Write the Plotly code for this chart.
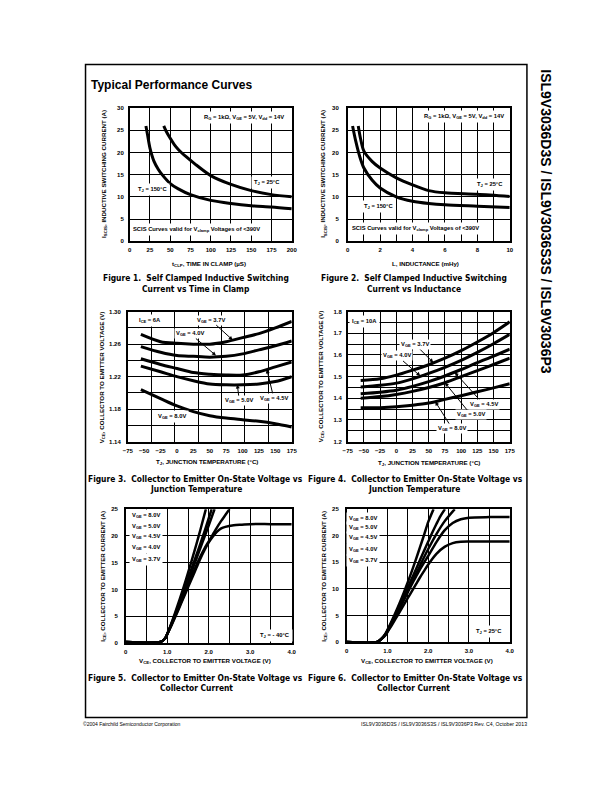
import plotly.graph_objects as go

# ---------------- data ----------------
# Figure 1: ISCIS vs time in clamp
f1_t150_x = [20, 22, 25, 30, 35, 40, 50, 60, 75, 100, 125, 150, 175, 200]
f1_t150_y = [26, 24, 21, 18, 16.3, 15, 13, 11.8, 10.5, 9.2, 8.5, 8.0, 7.7, 7.3]
f1_t25_x = [42, 45, 50, 55, 60, 70, 80, 100, 125, 150, 175, 200]
f1_t25_y = [26, 24.8, 23.2, 21.8, 20.7, 19.0, 17.5, 14.8, 12.8, 11.4, 10.5, 10.0]

# Figure 2: ISCIS vs inductance
f2_t150_x = [0.3, 0.5, 0.75, 1, 1.5, 2, 3, 4, 5, 6, 8, 10]
f2_t150_y = [26, 22.5, 19, 16.5, 13.8, 12, 10, 9, 8.5, 8.2, 7.9, 7.6]
f2_t25_x = [0.65, 0.8, 1, 1.5, 2, 3, 4, 5, 6, 8, 10]
f2_t25_y = [26, 23, 20.3, 18, 16.5, 14.3, 12.7, 11.4, 10.9, 10.6, 10.1]

# Figure 3: VCE vs TJ, ICE = 6A
f3_temp = [-55, -25, 0, 25, 50, 75, 100, 125, 150, 175]
f3_v37 = [1.272, 1.263, 1.261, 1.260, 1.260, 1.263, 1.268, 1.273, 1.280, 1.288]
f3_v40 = [1.257, 1.250, 1.246, 1.245, 1.244, 1.245, 1.248, 1.253, 1.258, 1.264]
f3_v45 = [1.242, 1.235, 1.230, 1.225, 1.223, 1.222, 1.222, 1.226, 1.232, 1.238]
f3_v50 = [1.233, 1.226, 1.220, 1.215, 1.211, 1.210, 1.210, 1.211, 1.214, 1.220]
f3_v80 = [1.204, 1.193, 1.184, 1.177, 1.172, 1.169, 1.167, 1.165, 1.162, 1.158]

# Figure 4: VCE vs TJ, ICE = 10A
f4_temp = [-55, -25, 0, 25, 50, 75, 100, 125, 150, 175]
f4_v37 = [1.482, 1.490, 1.507, 1.530, 1.555, 1.585, 1.620, 1.660, 1.703, 1.753]
f4_v40 = [1.452, 1.460, 1.470, 1.490, 1.515, 1.543, 1.575, 1.612, 1.652, 1.695]
f4_v45 = [1.421, 1.428, 1.437, 1.455, 1.477, 1.503, 1.533, 1.565, 1.595, 1.627]
f4_v50 = [1.400, 1.408, 1.418, 1.432, 1.450, 1.472, 1.500, 1.528, 1.556, 1.585]
f4_v80 = [1.356, 1.357, 1.361, 1.368, 1.378, 1.395, 1.412, 1.430, 1.448, 1.467]

# Figure 5: ICE vs VCE, TJ = -40C
f5_v80 = [0, 0.85, 0.95, 1.0, 1.1, 1.2, 1.3, 1.4, 1.5, 1.6, 1.7, 1.8, 1.93]
f5_i80 = [0.2, 0.25, 0.9, 1.7, 3.7, 5.9, 8.2, 10.6, 13.1, 15.7, 18.4, 21.2, 25]
f5_v50 = [0, 0.85, 0.95, 1.0, 1.1, 1.2, 1.3, 1.4, 1.5, 1.6, 1.7, 1.8, 1.9, 2.0, 2.07]
f5_i50 = [0.2, 0.25, 0.9, 1.7, 3.6, 5.6, 7.7, 9.8, 12.0, 14.2, 16.4, 18.6, 20.9, 23.3, 25]
f5_v45 = [0, 0.85, 0.95, 1.0, 1.1, 1.2, 1.3, 1.4, 1.5, 1.6, 1.7, 1.8, 1.9, 2.0, 2.14]
f5_i45 = [0.2, 0.25, 0.9, 1.7, 3.5, 5.4, 7.4, 9.4, 11.5, 13.6, 15.7, 17.8, 19.9, 22.0, 25]
f5_v40 = [0, 0.85, 0.95, 1.0, 1.1, 1.2, 1.3, 1.4, 1.5, 1.6, 1.7, 1.8, 1.9, 2.0, 2.1, 2.2, 2.3, 2.4, 2.5]
f5_i40 = [0.2, 0.25, 0.9, 1.7, 3.4, 5.2, 7.0, 8.9, 10.8, 12.7, 14.5, 16.2, 17.7, 19.0, 20.3, 21.6, 22.8, 23.9, 25]
f5_v37 = [0, 0.85, 0.95, 1.0, 1.1, 1.2, 1.3, 1.4, 1.5, 1.6, 1.7, 1.8, 1.9, 2.0, 2.1, 2.2, 2.3, 2.4, 2.6, 2.8, 3.0, 3.5, 4.0]
f5_i37 = [0.2, 0.25, 0.9, 1.7, 3.3, 5.0, 6.8, 8.6, 10.4, 12.2, 14.0, 15.8, 17.4, 18.8, 19.9, 20.8, 21.4, 21.7, 22.0, 22.1, 22.2, 22.2, 22.2]

# Figure 6: ICE vs VCE, TJ = 25C
f6_v80 = [0, 0.75, 0.85, 0.95, 1.0, 1.1, 1.2, 1.3, 1.4, 1.5, 1.6, 1.7, 1.8, 1.9, 2.0, 2.13]
f6_i80 = [0, 0.05, 0.6, 1.6, 2.3, 3.9, 5.6, 7.4, 9.3, 11.3, 13.4, 15.6, 17.9, 20.2, 22.6, 25]
f6_v50 = [0, 0.75, 0.85, 0.95, 1.0, 1.1, 1.2, 1.3, 1.4, 1.5, 1.6, 1.7, 1.8, 1.9, 2.0, 2.1, 2.2, 2.3, 2.41]
f6_i50 = [0, 0.05, 0.6, 1.5, 2.2, 3.7, 5.3, 6.9, 8.6, 10.3, 12.0, 13.7, 15.5, 17.2, 18.9, 20.6, 22.2, 23.7, 25]
f6_v45 = [0, 0.75, 0.85, 0.95, 1.0, 1.1, 1.2, 1.3, 1.4, 1.5, 1.6, 1.7, 1.8, 1.9, 2.0, 2.2, 2.4, 2.65]
f6_i45 = [0, 0.05, 0.6, 1.5, 2.1, 3.5, 5.0, 6.5, 8.0, 9.6, 11.2, 12.8, 14.4, 16.0, 17.5, 20.3, 22.7, 25]
f6_v40 = [0, 0.75, 0.85, 0.95, 1.0, 1.1, 1.2, 1.3, 1.4, 1.5, 1.6, 1.7, 1.8, 1.9, 2.0, 2.2, 2.4, 2.6, 2.8, 3.0, 3.5, 4.0]
f6_i40 = [0, 0.05, 0.6, 1.4, 2.0, 3.4, 4.9, 6.4, 7.9, 9.4, 10.9, 12.3, 13.7, 15.0, 16.2, 18.8, 21.0, 22.4, 23.1, 23.4, 23.5, 23.5]
f6_v37 = [0, 0.75, 0.85, 0.95, 1.0, 1.1, 1.2, 1.3, 1.4, 1.5, 1.6, 1.7, 1.8, 1.9, 2.0, 2.2, 2.4, 2.6, 2.8, 3.0, 4.0]
f6_i37 = [0, 0.05, 0.6, 1.3, 1.9, 3.1, 4.4, 5.7, 7.0, 8.3, 9.6, 10.9, 12.2, 13.4, 14.6, 16.6, 17.9, 18.6, 18.85, 18.9, 18.9]

# tick labels
temp_ticks = [-75, -50, -25, 0, 25, 50, 75, 100, 125, 150, 175]
vce_tickvals = [0, 1, 2, 3, 4]
vce_ticktext = ["0", "1.0", "2.0", "3.0", "4.0"]
vge_labels = ["V<sub>GE</sub> = 8.0V", "V<sub>GE</sub> = 5.0V", "V<sub>GE</sub> = 4.5V",
              "V<sub>GE</sub> = 4.0V", "V<sub>GE</sub> = 3.7V"]

# ---------------- figure ----------------
W, H = 611, 792
FONT = "Liberation Sans, Arial, sans-serif"
COND = "DejaVu Sans Condensed, Liberation Sans, sans-serif"

fig = go.Figure()

def line(x, y, xa, ya, width=3):
    fig.add_trace(go.Scatter(x=x, y=y, xaxis=xa, yaxis=ya, mode="lines",
                             line=dict(color="black", width=width, shape="spline", smoothing=0.8),
                             showlegend=False, hoverinfo="skip"))

line(f1_t150_x, f1_t150_y, "x", "y")
line(f1_t25_x, f1_t25_y, "x", "y")
line(f2_t150_x, f2_t150_y, "x2", "y2")
line(f2_t25_x, f2_t25_y, "x2", "y2")
for ys in [f3_v37, f3_v40, f3_v45, f3_v50, f3_v80]:
    line(f3_temp, ys, "x3", "y3")
for ys in [f4_v37, f4_v40, f4_v45, f4_v50, f4_v80]:
    line(f4_temp, ys, "x4", "y4")
for xs, ys in [(f5_v80, f5_i80), (f5_v50, f5_i50), (f5_v45, f5_i45), (f5_v40, f5_i40), (f5_v37, f5_i37)]:
    line(xs, ys, "x5", "y5", 2.5)
for xs, ys in [(f6_v80, f6_i80), (f6_v50, f6_i50), (f6_v45, f6_i45), (f6_v40, f6_i40), (f6_v37, f6_i37)]:
    line(xs, ys, "x6", "y6", 2.5)

def xd(a, b):
    return [a / W, b / W]

def yd(top, bottom):
    return [1 - bottom / H, 1 - top / H]

tickfont = dict(size=6, family=FONT, color="black", weight="bold")

def axis(domain, rng, anchor, standoff, **kw):
    d = dict(domain=domain, range=rng, anchor=anchor, showline=True, mirror=True,
             linecolor="black", linewidth=1.5, showgrid=True, gridcolor="black",
             gridwidth=1, ticks="", tickfont=tickfont, zeroline=False,
             ticklabelstandoff=standoff, fixedrange=True)
    d.update(kw)
    return d

mgrid = dict(showgrid=True, gridcolor="black", gridwidth=1, ticks="")

fig.update_layout(
    width=W, height=H, margin=dict(l=0, r=0, t=0, b=0),
    paper_bgcolor="white", plot_bgcolor="white",
    font=dict(family=FONT, color="black"),
    xaxis=axis(xd(127, 292), [0, 200], "y", 2, dtick=25, tick0=0),
    yaxis=axis(yd(106, 240), [0, 30], "x", 3, dtick=5, tick0=0),
    xaxis2=axis(xd(349, 514), [0, 10], "y2", 2, dtick=2, tick0=0, minor=dict(dtick=1, **mgrid)),
    yaxis2=axis(yd(106, 240), [0, 30], "x2", 6, dtick=5, tick0=0),
    xaxis3=axis(xd(125, 292), [-75, 175], "y3", 2, tickvals=temp_ticks, showgrid=False,
                minor=dict(tickvals=[-75 + 250 * k / 7 for k in range(1, 7)], **mgrid)),
    yaxis3=axis(yd(311, 442), [1.14, 1.30], "x3", 4, dtick=0.04, tick0=1.14, tickformat=".2f",
                minor=dict(dtick=0.02, tick0=1.14, **mgrid)),
    xaxis4=axis(xd(349, 514), [-75, 175], "y4", 2, tickvals=temp_ticks),
    yaxis4=axis(yd(311, 442), [1.2, 1.8], "x4", 3, dtick=0.1, tick0=1.2, tickformat=".1f",
                minor=dict(dtick=0.05, tick0=1.2, **mgrid)),
    xaxis5=axis(xd(123, 292), [0, 4], "y5", 2, tickvals=vce_tickvals, ticktext=vce_ticktext,
                minor=dict(tickvals=[0.5, 1.5, 2.5, 3.5], **mgrid)),
    yaxis5=axis(yd(510, 645), [0, 25], "x5", 5, dtick=5, tick0=0),
    xaxis6=axis(xd(348, 514), [0, 4], "y6", 2, tickvals=vce_tickvals, ticktext=vce_ticktext,
                minor=dict(tickvals=[0.5, 1.5, 2.5, 3.5], **mgrid)),
    yaxis6=axis(yd(510, 644), [0, 25], "x6", 5, dtick=5, tick0=0),
)

ann = []
sfont = dict(size=5.8, family=FONT, color="black", weight="bold")

def txt(x, y, xr, yr, text, bg=None, **kw):
    a = dict(x=x, y=y, xref=xr, yref=yr, text=text, showarrow=False, font=sfont)
    if bg:
        a.update(bgcolor=bg, borderpad=2)
    a.update(kw)
    ann.append(a)

def arr(x, y, xr, yr, text, ax, ay):
    ann.append(dict(x=x, y=y, xref=xr, yref=yr, text=text, showarrow=True,
                    arrowhead=2, arrowsize=0.8, arrowwidth=1, arrowcolor="black",
                    ax=ax, ay=ay, font=sfont, bgcolor="white", borderpad=1))

def ptxt(px, py, text, size, family=FONT, weight="bold", angle=0, xanchor="center"):
    ann.append(dict(x=px / W, y=1 - py / H, xref="paper", yref="paper", text=text,
                    showarrow=False, textangle=angle, xanchor=xanchor, yanchor="middle",
                    font=dict(size=size, family=family, color="black", weight=weight)))

# Figure 1 texts
txt(141, 28, "x", "y", "R<sub>G</sub> = 1kΩ, V<sub>GE</sub> = 5V, V<sub>dd</sub> = 14V", bg="white")
txt(170, 13.3, "x", "y", "T<sub>J</sub> = 25°C", bg="white")
txt(28, 11.6, "x", "y", "T<sub>J</sub> = 150°C", bg="white")
txt(83, 2.6, "x", "y", "SCIS Curves valid for V<sub>clamp</sub> Voltages of <390V", bg="white")
# Figure 2 texts
txt(7.17, 28.1, "x2", "y2", "R<sub>G</sub> = 1kΩ, V<sub>GE</sub> = 5V, V<sub>dd</sub> = 14V", bg="white")
txt(8.8, 12.7, "x2", "y2", "T<sub>J</sub> = 25°C", bg="white")
txt(1.9, 7.9, "x2", "y2", "T<sub>J</sub> = 150°C", bg="white")
txt(4.2, 2.8, "x2", "y2", "SCIS Curves valid for V<sub>clamp</sub> Voltages of <390V", bg="white")
# Figure 3 texts
txt(-41.6, 1.2894, "x3", "y3", "I<sub>CE</sub> = 6A", bg="white")
txt(-6.8, 1.1709, "x3", "y3", "V<sub>GE</sub> = 8.0V", bg="white")
arr(85, 1.265, "x3", "y3", "V<sub>GE</sub> = 3.7V", -22, -20)
arr(59.5, 1.246, "x3", "y3", "V<sub>GE</sub> = 4.0V", -26, -22)
arr(92, 1.2102, "x3", "y3", "V<sub>GE</sub> = 5.0V", 2, 16)
arr(137, 1.229, "x3", "y3", "V<sub>GE</sub> = 4.5V", 7, 29)
# Figure 4 texts
txt(-48.7, 1.755, "x4", "y4", "I<sub>CE</sub> = 10A", bg="white")
arr(57, 1.565, "x4", "y4", "V<sub>GE</sub> = 3.7V", -18, -18)
arr(37, 1.503, "x4", "y4", "V<sub>GE</sub> = 4.0V", -23, -20)
arr(90, 1.52, "x4", "y4", "V<sub>GE</sub> = 4.5V", 29, 32)
arr(75, 1.472, "x4", "y4", "V<sub>GE</sub> = 5.0V", 26, 32)
arr(60, 1.385, "x4", "y4", "V<sub>GE</sub> = 8.0V", 17, 27)
# Figure 5 / 6 texts
for lab, yv in zip(vge_labels, [23.9, 21.8, 19.9, 17.8, 15.6]):
    txt(0.49, yv, "x5", "y5", lab, bg="white")
for lab, yv in zip(vge_labels, [23.3, 21.5, 19.7, 17.5, 15.4]):
    txt(0.39, yv, "x6", "y6", lab, bg="white")
txt(3.6, 1.5, "x5", "y5", "T<sub>J</sub> = - 40°C", bg="white")
txt(3.5, 2.0, "x6", "y6", "T<sub>J</sub> = 25°C", bg="white")

# axis titles
ytitles = [
    (100, 172, "I<sub>SCIS</sub>, INDUCTIVE SWITCHING CURRENT (A)"),
    (324, 172, "I<sub>SCIS</sub>, INDUCTIVE SWITCHING CURRENT (A)"),
    (99, 377, "V<sub>CE</sub>, COLLECTOR TO EMITTER VOLTAGE (V)"),
    (322, 376, "V<sub>CE</sub>, COLLECTOR TO EMITTER VOLTAGE (V)"),
    (99, 578, "I<sub>CE</sub>, COLLECTOR TO EMITTER CURRENT (A)"),
    (324, 578, "I<sub>CE</sub>, COLLECTOR TO EMITTER CURRENT (A)"),
]
for px, py, t in ytitles:
    ptxt(px, py, t, 6.2, angle=-90)
xtitles = [
    (208, 263, "t<sub>CLP</sub>, TIME IN CLAMP (µS)"),
    (428, 262, "L, INDUCTANCE (mHy)"),
    (206, 463, "T<sub>J</sub>, JUNCTION TEMPERATURE (°C)"),
    (432, 464, "T<sub>J</sub>, JUNCTION TEMPERATURE (°C)"),
    (204, 663, "V<sub>CE</sub>, COLLECTOR TO EMITTER VOLTAGE (V)"),
    (430, 663, "V<sub>CE</sub>, COLLECTOR TO EMITTER VOLTAGE (V)"),
]
for px, py, t in xtitles:
    ptxt(px, py, t, 6.2)

# captions
captions = [
    (195, 277, "Figure 1.  Self Clamped Inductive Switching"),
    (195, 288, "Current vs Time in Clamp"),
    (417, 277, "Figure 2.  Self Clamped Inductive Switching"),
    (417, 288, "Current vs Inductance"),
    (194, 480, "Figure 3.  Collector to Emitter On-State Voltage vs"),
    (195, 490, "Junction Temperature"),
    (418, 480, "Figure 4.  Collector to Emitter On-State Voltage vs"),
    (416, 490, "Junction Temperature"),
    (194, 680, "Figure 5.  Collector to Emitter On-State Voltage vs"),
    (195, 690, "Collector Current"),
    (418, 680, "Figure 6.  Collector to Emitter On-State Voltage vs"),
    (416, 690, "Collector Current"),
]
for px, py, t in captions:
    ptxt(px, py, t, 8.4, family=COND)

ptxt(86, 83, "Typical Performance Curves", 12, xanchor="left")
ptxt(551, 220, "ISL9V3036D3S / ISL9V3036S3S / ISL9V3036P3", 14, angle=90)
ptxt(77, 727, "©2004 Fairchild Semiconductor Corporation", 5, weight="normal", xanchor="left")
ptxt(534, 727, "ISL9V3036D3S / ISL9V3036S3S / ISL9V3036P3 Rev. C4, October 2013", 5.2,
     weight="normal", xanchor="right")

fig.update_layout(annotations=ann)
fig.add_shape(type="rect", xref="paper", yref="paper", x0=82 / W, x1=531.5 / W,
              y0=1 - 720 / H, y1=1 - 62 / H, line=dict(color="black", width=1.5),
              fillcolor="rgba(0,0,0,0)", layer="above")

fig.write_html("out.html", config=dict(displayModeBar=False),
               post_script="document.body.style.margin='0';")
